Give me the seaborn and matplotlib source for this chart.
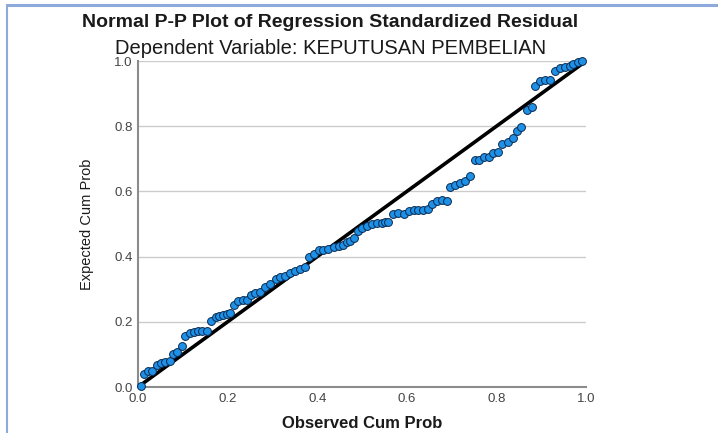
import matplotlib
matplotlib.use("Agg")
import matplotlib.pyplot as plt
from matplotlib import font_manager
from matplotlib.lines import Line2D
import pandas as pd
import seaborn as sns

# values
observed = [
    0.006, 0.013, 0.022, 0.032, 0.043, 0.052, 0.061, 0.071, 0.078, 0.087,
    0.099, 0.106, 0.116, 0.124, 0.134, 0.143, 0.154, 0.162, 0.173, 0.180,
    0.190, 0.199, 0.206, 0.214, 0.223, 0.234, 0.243, 0.253, 0.262, 0.273,
    0.284, 0.295, 0.307, 0.318, 0.329, 0.340, 0.351, 0.362, 0.372, 0.381,
    0.392, 0.403, 0.414, 0.425, 0.437, 0.448, 0.457, 0.466, 0.474, 0.483,
    0.492, 0.500, 0.511, 0.522, 0.533, 0.544, 0.552, 0.559, 0.570, 0.581,
    0.593, 0.604, 0.615, 0.626, 0.637, 0.648, 0.656, 0.667, 0.678, 0.689,
    0.697, 0.708, 0.719, 0.730, 0.741, 0.753, 0.762, 0.773, 0.784, 0.793,
    0.804, 0.812, 0.825, 0.837, 0.845, 0.855, 0.868, 0.879, 0.886, 0.897,
    0.909, 0.920, 0.931, 0.942, 0.953, 0.964, 0.972, 0.981, 0.990,
]
expected = [
    0.002, 0.040, 0.048, 0.048, 0.068, 0.073, 0.076, 0.081, 0.100, 0.107,
    0.127, 0.158, 0.166, 0.168, 0.171, 0.171, 0.171, 0.202, 0.216, 0.219,
    0.221, 0.225, 0.226, 0.253, 0.265, 0.267, 0.267, 0.281, 0.288, 0.291,
    0.308, 0.317, 0.332, 0.337, 0.342, 0.349, 0.357, 0.362, 0.367, 0.400,
    0.409, 0.421, 0.419, 0.424, 0.429, 0.434, 0.437, 0.444, 0.447, 0.458,
    0.478, 0.488, 0.495, 0.500, 0.502, 0.504, 0.505, 0.506, 0.531, 0.533,
    0.531, 0.541, 0.543, 0.543, 0.543, 0.547, 0.560, 0.572, 0.574, 0.572,
    0.613, 0.621, 0.625, 0.631, 0.646, 0.695, 0.695, 0.707, 0.707, 0.717,
    0.722, 0.746, 0.751, 0.764, 0.785, 0.799, 0.851, 0.860, 0.925, 0.940,
    0.942, 0.942, 0.971, 0.979, 0.983, 0.986, 0.991, 0.996, 1.000,
]
ticks = [0.0, 0.2, 0.4, 0.6, 0.8, 1.0]
tick_labels = ["0.0", "0.2", "0.4", "0.6", "0.8", "1.0"]
ref_line = [0.0, 1.0]

df = pd.DataFrame({"observed": observed, "expected": expected})

sns.set_theme(style="white")
plt.rcParams["font.family"] = ["Liberation Sans", "DejaVu Sans"]

installed = {f.name for f in font_manager.fontManager.ttflist}
narrow = "Liberation Sans Narrow" if "Liberation Sans Narrow" in installed else "Liberation Sans"

fig = plt.figure(figsize=(7.18, 4.33), dpi=100)
ax = fig.add_axes([0.1922, 0.1062, 0.6240, 0.7528])

ax.yaxis.grid(True, color="#cccccc", linewidth=1.0)
ax.set_axisbelow(True)

ax.plot(ref_line, ref_line, color="black", linewidth=2.6, zorder=2)
sns.scatterplot(data=df, x="observed", y="expected", ax=ax, s=32,
                color="#1e90e6", edgecolor="#0a2a50", linewidth=0.7,
                zorder=3, clip_on=False)

ax.set_xlim(0, 1)
ax.set_ylim(0, 1)
ax.set_xticks(ticks)
ax.set_xticklabels(tick_labels)
ax.set_yticks(ticks)
ax.set_yticklabels(tick_labels)
ax.tick_params(axis="both", labelsize=9.5, colors="#444444", length=0, pad=4)

for side in ["top", "right"]:
    ax.spines[side].set_visible(False)
for side in ["left", "bottom"]:
    ax.spines[side].set_color("#8c8c8c")
    ax.spines[side].set_linewidth(1.5)

ax.set_xlabel("Observed Cum Prob", fontsize=12, fontweight="bold", color="#1a1a1a", labelpad=8)
ax.set_ylabel("Expected Cum Prob", fontsize=10.5, fontweight="medium", color="#1a1a1a",
              family=narrow, labelpad=14)

fig.text(0.46, 0.948, "Normal P-P Plot of Regression Standardized Residual",
         ha="center", va="center", fontsize=14, fontweight="bold", color="#1a1a1a")
fig.text(0.46, 0.888, "Dependent Variable: KEPUTUSAN PEMBELIAN",
         ha="center", va="center", fontsize=14.5, color="#1a1a1a")

# light blue frame lines at top and left of the screenshot
fig.add_artist(Line2D([0.0097, 1.0], [0.988, 0.988], color="#8eaadc", linewidth=2.2))
fig.add_artist(Line2D([0.0097, 0.0097], [0.0, 0.988], color="#8eaadc", linewidth=1.5))

fig.savefig("out.png", dpi=100)
